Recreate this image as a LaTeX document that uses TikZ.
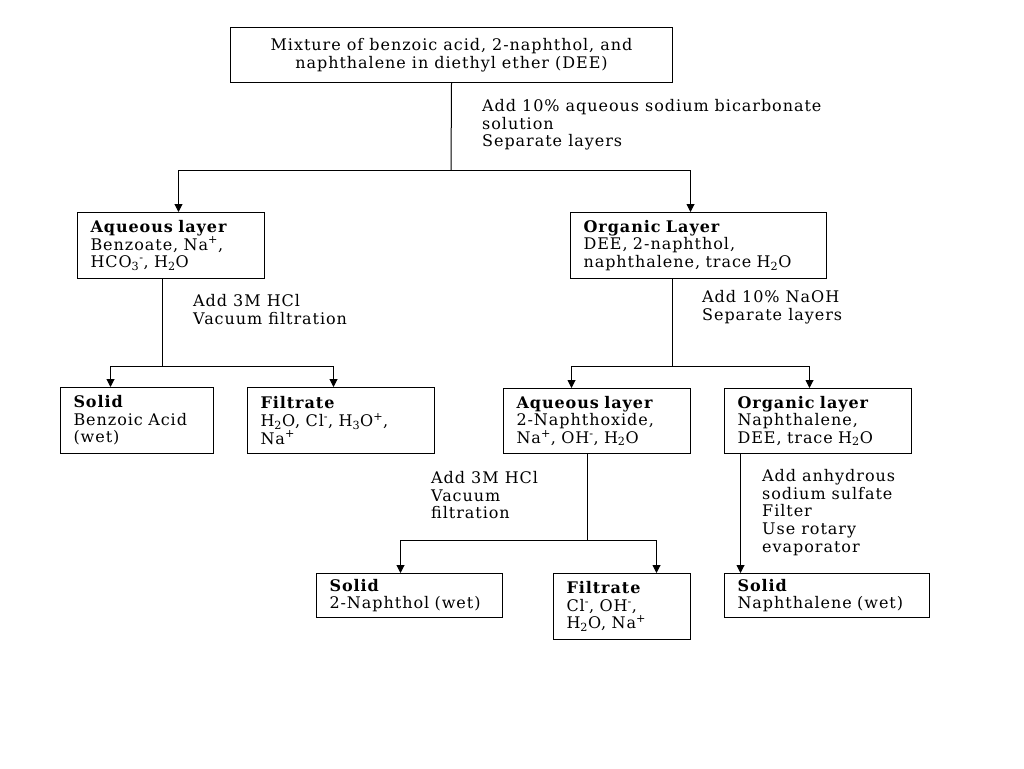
\documentclass[tikz,border=0pt]{standalone}
\usepackage{fontspec}
\setmainfont{DejaVu Serif}[LetterSpace=6]
\usetikzlibrary{arrows.meta}
\begin{document}
\begin{tikzpicture}[x=1pt,y=-1pt,
  box/.style={draw=black, line width=1pt, rectangle, anchor=north west,
    inner xsep=13pt, inner ysep=0pt, align=left, font=\fontsize{16}{17.6}\selectfont},
  lbl/.style={anchor=north west, inner sep=0pt, align=left, font=\fontsize{16}{17.8}\selectfont},
  conn/.style={line width=1pt},
  arr/.style={line width=1pt, -{Triangle[length=8pt,width=8pt]}}]
\useasboundingbox[fill=white] (0,0) rectangle (1024,768);

\node[box, minimum width=442pt, minimum height=55pt, align=center] (top) at (230,27)
  {Mixture of benzoic acid, 2-naphthol, and\\naphthalene in diethyl ether (DEE)};

\node[box, text width=161pt, minimum height=66pt] (aq1) at (77,212)
  {\textbf{Aqueous layer}\\Benzoate, Na\textsuperscript{+},\\HCO\textsubscript{3}\textsuperscript{-}, H\textsubscript{2}O};
\node[box, text width=230pt, minimum height=66pt] (org1) at (570,212)
  {\textbf{Organic Layer}\\DEE, 2-naphthol,\\naphthalene, trace H\textsubscript{2}O};

\node[box, text width=127pt, minimum height=66pt] (sol1) at (60,387)
  {\textbf{Solid}\\Benzoic Acid\\(wet)};
\node[box, text width=161pt, minimum height=66pt] (fil1) at (247,387)
  {\textbf{Filtrate}\\H\textsubscript{2}O, Cl\textsuperscript{-}, H\textsubscript{3}O\textsuperscript{+},\\Na\textsuperscript{+}};
\node[box, text width=161pt, minimum height=65pt] (aq2) at (503,388)
  {\textbf{Aqueous layer}\\2-Naphthoxide,\\Na\textsuperscript{+}, OH\textsuperscript{-}, H\textsubscript{2}O};
\node[box, text width=161pt, minimum height=65pt] (org2) at (724,388)
  {\textbf{Organic layer}\\Naphthalene,\\DEE, trace H\textsubscript{2}O};

\node[box, text width=160pt, minimum height=44pt] (sol2) at (316,573)
  {\textbf{Solid}\\2-Naphthol (wet)};
\node[box, text width=111pt, minimum height=66pt] (fil2) at (553,573)
  {\textbf{Filtrate}\\Cl\textsuperscript{-}, OH\textsuperscript{-},\\H\textsubscript{2}O, Na\textsuperscript{+}};
\node[box, text width=179pt, minimum height=44pt] (sol3) at (724,573)
  {\textbf{Solid}\\Naphthalene (wet)};

\node[lbl] (l1) at (482,99) {Add 10\% aqueous sodium bicarbonate\\solution\\Separate layers};
\node[lbl] (l2) at (193,294) {Add 3M HCl\\Vacuum filtration};
\node[lbl] (l3) at (702,290) {Add 10\% NaOH\\Separate layers};
\node[lbl] (l4) at (431,471) {Add 3M HCl\\Vacuum\\filtration};
\node[lbl] (l5) at (762,469) {Add anhydrous\\sodium sulfate\\Filter\\Use rotary\\evaporator};

\coordinate (j1) at (451,170);
\coordinate (j2) at (162,366);
\coordinate (j3) at (672,366);
\coordinate (j4) at (587,540);
\coordinate (t5) at ([xshift=-77.5pt]org2.south);

\draw[conn] (top.south) -- (j1);
\draw[arr] (j1) -| ([xshift=7.5pt]aq1.north);
\draw[arr] (j1) -| ([xshift=-8pt]org1.north);

\draw[conn] (aq1.south -| j2) -- (j2);
\draw[arr] (j2) -| ([xshift=-26.5pt]sol1.north);
\draw[arr] (j2) -| ([xshift=-7.5pt]fil1.north);

\draw[conn] (org1.south -| j3) -- (j3);
\draw[arr] (j3) -| ([xshift=-25.5pt]aq2.north);
\draw[arr] (j3) -| ([xshift=-8.5pt]org2.north);

\draw[conn] (aq2.south -| j4) -- (j4);
\draw[arr] (j4) -| ([xshift=-9pt]sol2.north);
\draw[arr] (j4) -| ([xshift=34.5pt]fil2.north);

\draw[arr] (t5) -- (t5 |- sol3.north);
\end{tikzpicture}
\end{document}
